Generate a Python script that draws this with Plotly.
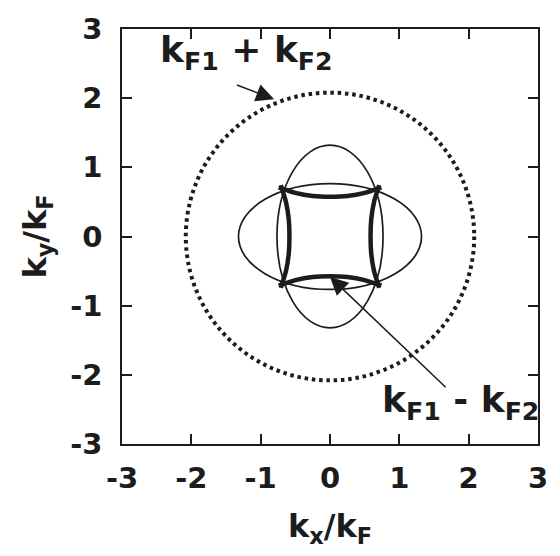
import plotly.graph_objects as go

# Axis ticks
tick_vals = [-3, -2, -1, 0, 1, 2, 3]
tick_text = ["-3", "-2", "-1", "0", "1", "2", "3"]

# Fermi surface ellipses (semi-axes in units of k_F)
ellipse_long = 1.32
ellipse_short = 0.765
# k_F1 + k_F2 circle radius
sum_radius = 2.08

# k_F1 - k_F2 contour: four concave arcs
top_x = [-0.74, -0.68, -0.5, -0.25, 0.0, 0.25, 0.5, 0.68, 0.74]
top_y = [0.71, 0.69, 0.63, 0.585, 0.575, 0.585, 0.63, 0.69, 0.71]
bottom_x = [-0.74, -0.68, -0.5, -0.25, 0.0, 0.25, 0.5, 0.68, 0.74]
bottom_y = [-0.71, -0.69, -0.63, -0.585, -0.575, -0.585, -0.63, -0.69, -0.71]
left_x = [-0.71, -0.69, -0.635, -0.595, -0.585, -0.595, -0.635, -0.69, -0.71]
left_y = [-0.74, -0.68, -0.5, -0.25, 0.0, 0.25, 0.5, 0.68, 0.74]
right_x = [0.71, 0.69, 0.635, 0.595, 0.585, 0.595, 0.635, 0.69, 0.71]
right_y = [-0.74, -0.68, -0.5, -0.25, 0.0, 0.25, 0.5, 0.68, 0.74]

# Annotation arrows: (tail, tip)
plus_tail = (-1.364, 2.198)
plus_tip = (-0.806, 1.985)
minus_tail = (1.69, -2.20)
minus_tip = (0.0, -0.584)

INK = "#1c1c1c"
FONT = "DejaVu Sans"

fig = go.Figure()

arcs = [
    ("top", top_x, top_y),
    ("bottom", bottom_x, bottom_y),
    ("left", left_x, left_y),
    ("right", right_x, right_y),
]
for name, xs, ys in arcs:
    fig.add_trace(go.Scatter(
        x=xs, y=ys, mode="lines", name=name,
        line=dict(color=INK, width=4.5, shape="spline", smoothing=1.0),
        showlegend=False, hoverinfo="skip",
    ))

# Horizontal and vertical ellipses
fig.add_shape(type="circle", xref="x", yref="y", layer="below",
              x0=-ellipse_long, x1=ellipse_long, y0=-ellipse_short, y1=ellipse_short,
              line=dict(color=INK, width=1.7))
fig.add_shape(type="circle", xref="x", yref="y", layer="below",
              x0=-ellipse_short, x1=ellipse_short, y0=-ellipse_long, y1=ellipse_long,
              line=dict(color=INK, width=1.7))
# Dotted k_F1 + k_F2 circle
fig.add_shape(type="circle", xref="x", yref="y", layer="below",
              x0=-sum_radius, x1=sum_radius, y0=-sum_radius, y1=sum_radius,
              line=dict(color=INK, width=4, dash="3.5px,3.8px"))

for tail, tip in [(plus_tail, plus_tip), (minus_tail, minus_tip)]:
    fig.add_annotation(
        x=tip[0], y=tip[1], ax=tail[0], ay=tail[1],
        xref="x", yref="y", axref="x", ayref="y",
        text="", showarrow=True, arrowhead=2, arrowsize=2.4,
        arrowwidth=1.5, arrowcolor=INK,
    )

label_font = dict(family=FONT, size=36, color=INK, weight="bold")
fig.add_annotation(x=-1.2, y=2.66, xref="x", yref="y",
                   text="k<sub>F1</sub> + k<sub>F2</sub>", showarrow=False,
                   font=label_font, xanchor="center", yanchor="middle")
fig.add_annotation(x=1.88, y=-2.4, xref="x", yref="y",
                   text="k<sub>F1</sub> - k<sub>F2</sub>", showarrow=False,
                   font=label_font, xanchor="center", yanchor="middle")

axis_common = dict(
    range=[-3, 3], tickmode="array", tickvals=tick_vals, ticktext=tick_text,
    ticks="inside", ticklen=10, tickwidth=1.5, tickcolor=INK,
    showline=True, linewidth=1.5, linecolor=INK, mirror="ticks",
    showgrid=False, zeroline=False,
    tickfont=dict(family=FONT, size=29, color=INK, weight="bold"),
)

title_font = dict(family=FONT, size=32, color=INK, weight="bold")
fig.update_layout(
    width=560, height=556,
    margin=dict(l=122, r=15, t=20, b=112),
    paper_bgcolor="white", plot_bgcolor="white",
    xaxis=dict(**axis_common, ticklabelstandoff=7,
               title=dict(text="k<sub>x</sub>/k<sub>F</sub>", font=title_font, standoff=21)),
    yaxis=dict(**axis_common, ticklabelstandoff=12,
               title=dict(text="k<sub>y</sub>/k<sub>F</sub>", font=title_font, standoff=14)),
)

fig.write_html("out.html")
